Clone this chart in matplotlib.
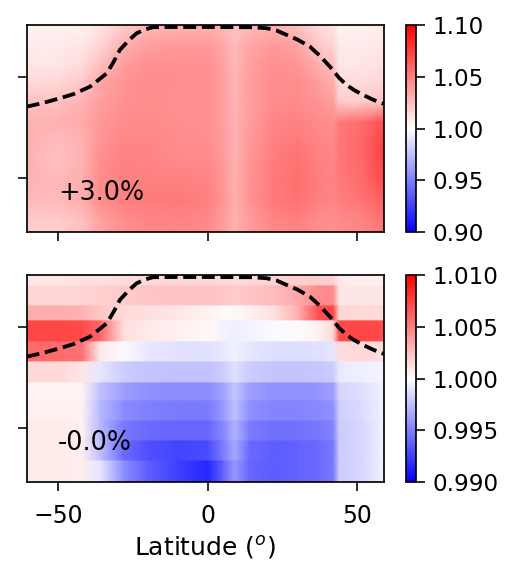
import numpy as np
import matplotlib
matplotlib.use("Agg")
import matplotlib.pyplot as plt

plt.rcParams['font.family'] = ['DejaVu Sans']

# latitude nodes (deg)
lat = [-61, -50, -42, -36, -28, -20, -10, 0, 5, 9, 14, 22, 30, 37, 42, 44, 52, 59]
# altitude band edges (km), top to bottom
band_edges = [17.57, 17.03, 16.04, 15.30, 14.26, 13.27, 12.23, 11.34, 10.35, 9.36, 8.37, 7.33]

# top panel ratio values per band (top to bottom)
top_vals = [
    [1.006, 1.006, 1.007, 1.011, 1.022, 1.029, 1.032, 1.032, 1.029, 1.024, 1.029, 1.032, 1.026, 1.016, 1.012, 1.006, 1.006, 1.008],
    [1.008, 1.008, 1.010, 1.017, 1.032, 1.038, 1.040, 1.040, 1.035, 1.027, 1.035, 1.040, 1.036, 1.022, 1.017, 1.008, 1.008, 1.010],
    [1.010, 1.010, 1.014, 1.025, 1.038, 1.043, 1.043, 1.043, 1.037, 1.028, 1.037, 1.043, 1.041, 1.031, 1.024, 1.010, 1.010, 1.012],
    [1.014, 1.015, 1.021, 1.034, 1.042, 1.045, 1.044, 1.044, 1.038, 1.029, 1.038, 1.045, 1.045, 1.038, 1.032, 1.014, 1.014, 1.016],
    [1.024, 1.025, 1.030, 1.038, 1.043, 1.045, 1.043, 1.043, 1.038, 1.029, 1.038, 1.045, 1.046, 1.042, 1.038, 1.020, 1.020, 1.024],
    [1.030, 1.030, 1.033, 1.040, 1.045, 1.046, 1.044, 1.043, 1.038, 1.030, 1.039, 1.047, 1.049, 1.046, 1.044, 1.052, 1.058, 1.068],
    [1.030, 1.026, 1.030, 1.042, 1.047, 1.047, 1.045, 1.044, 1.039, 1.030, 1.040, 1.049, 1.052, 1.048, 1.046, 1.053, 1.060, 1.074],
    [1.030, 1.025, 1.030, 1.044, 1.049, 1.048, 1.046, 1.046, 1.040, 1.030, 1.041, 1.051, 1.055, 1.050, 1.047, 1.053, 1.060, 1.074],
    [1.030, 1.028, 1.032, 1.045, 1.050, 1.050, 1.050, 1.048, 1.041, 1.031, 1.042, 1.052, 1.056, 1.051, 1.048, 1.052, 1.058, 1.070],
    [1.027, 1.027, 1.032, 1.044, 1.050, 1.052, 1.052, 1.050, 1.042, 1.032, 1.042, 1.052, 1.055, 1.050, 1.047, 1.050, 1.054, 1.062],
    [1.020, 1.020, 1.025, 1.036, 1.044, 1.047, 1.048, 1.046, 1.039, 1.030, 1.039, 1.047, 1.049, 1.045, 1.043, 1.045, 1.048, 1.054],
]

# bottom panel ratio values per band (top to bottom)
bot_vals = [
    [1.0010, 1.0010, 1.0011, 1.0012, 1.0014, 1.0015, 1.0016, 1.0016, 1.0015, 1.0014, 1.0016, 1.0017, 1.0019, 1.0020, 1.0018, 1.0008, 1.0007, 1.0006],
    [1.0016, 1.0016, 1.0017, 1.0018, 1.0020, 1.0022, 1.0023, 1.0023, 1.0022, 1.0020, 1.0022, 1.0026, 1.0033, 1.0045, 1.0045, 1.0010, 1.0010, 1.0010],
    [1.0032, 1.0032, 1.0030, 1.0022, 1.0015, 1.0012, 1.0010, 1.0005, 1.0002, 1.0003, 1.0006, 1.0012, 1.0030, 1.0068, 1.0072, 1.0016, 1.0015, 1.0015],
    [1.0072, 1.0072, 1.0070, 1.0060, 1.0012, 1.0008, 1.0006, 1.0003, 0.9996, 0.9993, 0.9996, 0.9998, 0.9999, 1.0005, 1.0015, 1.0070, 1.0072, 1.0070],
    [1.0058, 1.0058, 1.0055, 1.0008, 0.9998, 0.9991, 0.9989, 0.9988, 0.9991, 0.9995, 0.9990, 0.9987, 0.9987, 0.9988, 0.9990, 1.0014, 1.0015, 1.0012],
    [1.0015, 1.0015, 1.0010, 0.9990, 0.9980, 0.9977, 0.9976, 0.9976, 0.9980, 0.9988, 0.9980, 0.9977, 0.9977, 0.9978, 0.9980, 0.9992, 0.9994, 0.9996],
    [1.0005, 1.0005, 1.0004, 0.9975, 0.9962, 0.9957, 0.9955, 0.9955, 0.9964, 0.9978, 0.9962, 0.9957, 0.9957, 0.9959, 0.9962, 0.9984, 0.9988, 0.9995],
    [1.0006, 1.0006, 1.0005, 0.9972, 0.9955, 0.9950, 0.9948, 0.9948, 0.9960, 0.9975, 0.9957, 0.9952, 0.9952, 0.9954, 0.9957, 0.9982, 0.9986, 0.9995],
    [1.0008, 1.0008, 1.0006, 0.9972, 0.9947, 0.9942, 0.9940, 0.9940, 0.9953, 0.9970, 0.9949, 0.9944, 0.9945, 0.9947, 0.9952, 0.9980, 0.9985, 0.9995],
    [1.0008, 1.0008, 1.0006, 0.9975, 0.9942, 0.9932, 0.9927, 0.9929, 0.9948, 0.9966, 0.9942, 0.9937, 0.9939, 0.9942, 0.9947, 0.9980, 0.9985, 0.9995],
    [1.0008, 1.0008, 1.0007, 0.9990, 0.9955, 0.9937, 0.9925, 0.9915, 0.9938, 0.9960, 0.9940, 0.9937, 0.9939, 0.9942, 0.9947, 0.9980, 0.9985, 0.9995],
]

# tropopause (dashed line)
tp_lat = [-60.6, -55, -49.4, -45, -39.4, -37, -33.8, -31.5, -29.4, -26.5, -23.8, -21, -18.3, -15, 0,
          15, 19.7, 23, 26.4, 30, 34.2, 37.5, 40.9, 44, 46.5, 49, 52, 55, 57.7, 59]
tp_alt = [13.53, 13.72, 13.95, 14.15, 14.52, 14.80, 15.18, 15.75, 16.34, 16.80, 17.16, 17.35, 17.46, 17.47, 17.47,
          17.46, 17.41, 17.30, 17.08, 16.85, 16.50, 16.05, 15.51, 14.95, 14.60, 14.35, 14.11, 13.90, 13.73, 13.67]

labels = ["+3.0%", "-0.0%"]
cbar_ranges = [(0.90, 1.10), (0.990, 1.010)]
cbar_ticks = [[0.90, 0.95, 1.00, 1.05, 1.10], [0.990, 0.995, 1.000, 1.005, 1.010]]
cbar_fmt = ["{:.2f}", "{:.3f}"]
xticks = [-50, 0, 50]
yticks = [10, 15]

W, H = 505, 564
DPI = 72
fig = plt.figure(figsize=(W / DPI, H / DPI), dpi=DPI)
FS_CB = 23
FS_X = 23.5
FS_LAB = 25
FS_TXT = 25.5

def fx(px):
    return px / W

def fy(py):
    return 1 - py / H

panels = [(25, 232), (275, 482)]
X = np.array(lat, dtype=float)
edges = np.array(band_edges)
centers = (edges[:-1] + edges[1:]) / 2

for i, (vals, (ptop, pbot)) in enumerate(zip([top_vals, bot_vals], panels)):
    ax = fig.add_axes([fx(26.7), fy(pbot), fx(384 - 26.7), (pbot - ptop) / H])
    V = np.array(vals)
    if i == 0:
        # smooth vertical gradient through band centres
        Yr = np.concatenate([[edges[0]], centers, [edges[-1]]])
        C = np.vstack([V[:1], V, V[-1:]])
    else:
        # sharp horizontal bands
        Yr = np.repeat(edges, 2)[1:-1]
        C = np.repeat(V, 2, axis=0)
    XX, YY = np.meshgrid(X, Yr)
    vmin, vmax = cbar_ranges[i]
    m = ax.pcolormesh(XX, YY, C, shading='gouraud', cmap='bwr', vmin=vmin, vmax=vmax,
                      rasterized=True)
    ax.plot(tp_lat, tp_alt, color='black', ls=(0, (3.4, 1.5)), lw=3.8)
    ax.set_xlim(-60.6, 59)
    ax.set_ylim(band_edges[-1], band_edges[0])
    ax.set_xticks(xticks)
    ax.set_yticks(yticks)
    ax.set_yticklabels([])
    ax.tick_params(length=9, width=1.6, labelsize=FS_X, pad=13)
    for s in ax.spines.values():
        s.set_linewidth(1.7)
    if i == 0:
        ax.set_xticklabels([])
    else:
        ax.set_xlabel("Latitude ($^o$)", fontsize=FS_LAB, labelpad=6)
    ax.text(0.088, 0.157, labels[i], transform=ax.transAxes, fontsize=FS_TXT,
            ha='left', va='baseline')

    cax = fig.add_axes([fx(406), fy(pbot), fx(10), (pbot - ptop) / H])
    cb = fig.colorbar(m, cax=cax)
    cb.set_ticks(cbar_ticks[i])
    cb.set_ticklabels([cbar_fmt[i].format(t) for t in cbar_ticks[i]])
    cb.outline.set_linewidth(1.7)
    cax.tick_params(length=9, width=1.6, labelsize=FS_CB, pad=7)

fig.savefig("out.png", dpi=DPI)
